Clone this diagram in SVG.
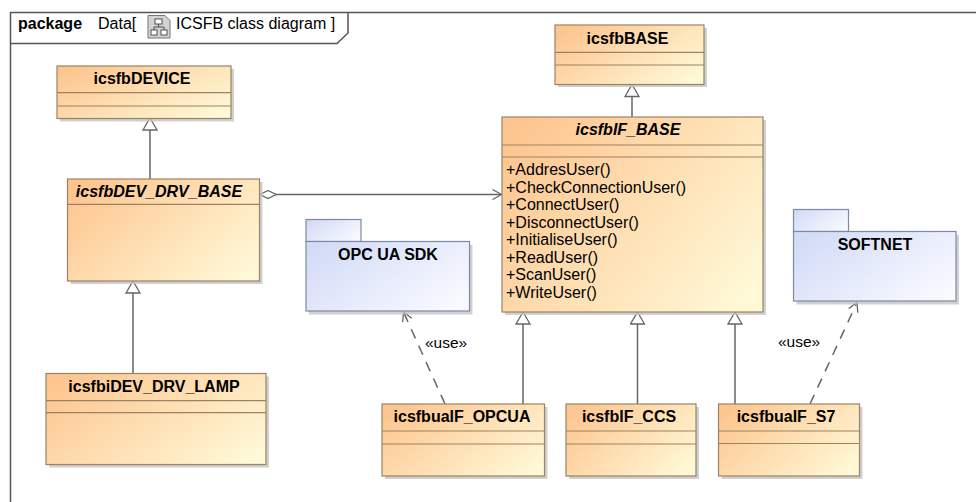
<svg xmlns="http://www.w3.org/2000/svg" width="976" height="502" viewBox="0 0 976 502">
<defs>
<linearGradient id="gClass" x1="0" y1="0.2" x2="1" y2="0.8">
<stop offset="0" stop-color="#FDC690"/>
<stop offset="1" stop-color="#FFF8D6"/>
</linearGradient>
<linearGradient id="gPkg" x1="0" y1="0.2" x2="1" y2="0.8">
<stop offset="0" stop-color="#D3DCF7"/>
<stop offset="1" stop-color="#F9FAFF"/>
</linearGradient>
<marker id="gen" markerUnits="userSpaceOnUse" markerWidth="14" markerHeight="16" viewBox="-1 -1 14 16" refX="12" refY="7" orient="auto">
<path d="M0,0 L12,7 L0,14 Z" fill="#fff" stroke="#666" stroke-width="1.3"/>
</marker>
<marker id="open" markerUnits="userSpaceOnUse" markerWidth="12" markerHeight="12" viewBox="-1 -1 12 12" refX="9" refY="5" orient="auto">
<path d="M0,0 L9,5 L0,10" fill="none" stroke="#666" stroke-width="1.3"/>
</marker>
<marker id="dia" markerUnits="userSpaceOnUse" markerWidth="18" markerHeight="10" viewBox="-1 -1 18 10" refX="0" refY="4" orient="auto">
<path d="M0,4 L8,0 L16,4 L8,8 Z" fill="#fff" stroke="#666" stroke-width="1.3"/>
</marker>
</defs>
<style>
.box{fill:url(#gClass);stroke:#9C8263;stroke-width:1.2}
.pkg{fill:url(#gPkg);stroke:#7E89A6;stroke-width:1.2}
.sh{fill:#C4C4C4;opacity:0.8}
.div{stroke:#9C8263;stroke-width:1.2}
.nm{font-family:"Liberation Sans",Arial,sans-serif;font-size:16px;font-weight:bold;fill:#000;text-anchor:middle}
.it{font-style:italic}
.op{font-family:"Liberation Sans",Arial,sans-serif;font-size:16px;fill:#000}
.lbl{font-family:"Liberation Sans",Arial,sans-serif;font-size:15.5px;fill:#000}
.ln{stroke:#666;stroke-width:1.5;fill:none}
.dash{stroke:#666;stroke-width:1.5;fill:none;stroke-dasharray:10,8}
.frame{stroke:#555;stroke-width:1.5;fill:none}
.hd{font-family:"Liberation Sans",Arial,sans-serif;font-size:16px;fill:#000}
</style>
<rect width="976" height="502" fill="#fff"/>

<g id="frame">
<path class="frame" d="M10.5,502 L10.5,12.5 L976,12.5"/>
<path class="frame" d="M10.5,43.5 L337,43.5 L348,33 L348,12.5"/>
<text class="hd" x="18" y="29" font-weight="bold">package</text>
<text class="hd" x="98" y="29">Data[</text>
<g id="icon">
<path d="M148,15.5 L165,15.5 L170,20.5 L170,38 L148,38 Z" fill="#D2D2D2" stroke="#777" stroke-width="1"/>
<rect x="155" y="19" width="7" height="5" fill="#fff" stroke="#444" stroke-width="0.9"/>
<rect x="151" y="30" width="6" height="5" fill="#fff" stroke="#444" stroke-width="0.9"/>
<rect x="161" y="30" width="6" height="5" fill="#fff" stroke="#444" stroke-width="0.9"/>
<path d="M158.5,24 L158.5,27 M154,30 L154,27 L164,27 L164,30" fill="none" stroke="#444" stroke-width="0.9"/>
</g>
<text class="hd" x="176" y="29">ICSFB class diagram ]</text>
</g>

<g id="connectors">
<line class="ln" x1="150" y1="179" x2="150" y2="118" marker-end="url(#gen)"/>
<line class="ln" x1="133" y1="373" x2="133" y2="281" marker-end="url(#gen)"/>
<line class="ln" x1="632" y1="117" x2="632" y2="84.5" marker-end="url(#gen)"/>
<line class="ln" x1="260" y1="194.5" x2="501.5" y2="194.5" marker-start="url(#dia)" marker-end="url(#open)"/>
<line class="ln" x1="523" y1="404" x2="523" y2="312" marker-end="url(#gen)"/>
<line class="ln" x1="637.5" y1="404" x2="637.5" y2="312" marker-end="url(#gen)"/>
<line class="ln" x1="735" y1="404" x2="735" y2="312" marker-end="url(#gen)"/>
<line class="dash" x1="445" y1="404" x2="403.5" y2="312" marker-end="url(#open)"/>
<line class="dash" x1="810" y1="404" x2="857" y2="302.5" marker-end="url(#open)"/>
<text class="lbl" x="425" y="348">«use»</text>
<text class="lbl" x="778" y="347">«use»</text>
</g>

<g id="icsfbDEVICE">
<rect class="sh" x="60" y="69" width="174" height="52.5"/>
<rect class="box" x="57" y="66" width="174" height="52.5"/>
<line class="div" x1="57" y1="92.7" x2="231" y2="92.7"/>
<line class="div" x1="57" y1="106" x2="231" y2="106"/>
<text class="nm" x="142" y="83.5">icsfbDEVICE</text>
</g>

<g id="icsfbDEV_DRV_BASE">
<rect class="sh" x="70.5" y="182" width="192" height="102"/>
<rect class="box" x="67.5" y="179" width="192" height="102"/>
<line class="div" x1="67.5" y1="204.3" x2="259.5" y2="204.3"/>
<text class="nm it" x="159" y="197">icsfbDEV_DRV_BASE</text>
</g>

<g id="icsfbiDEV_DRV_LAMP">
<rect class="sh" x="49" y="376.5" width="220" height="91"/>
<rect class="box" x="46" y="373.5" width="220" height="91"/>
<line class="div" x1="46" y1="400.7" x2="266" y2="400.7"/>
<line class="div" x1="46" y1="412.7" x2="266" y2="412.7"/>
<text class="nm" x="154" y="392" font-size="16.5">icsfbiDEV_DRV_LAMP</text>
</g>

<g id="icsfbBASE">
<rect class="sh" x="558" y="28" width="149" height="59"/>
<rect class="box" x="555" y="25" width="149" height="59.5"/>
<line class="div" x1="555" y1="52.3" x2="704" y2="52.3"/>
<line class="div" x1="555" y1="65" x2="704" y2="65"/>
<text class="nm" x="627.5" y="43.5">icsfbBASE</text>
</g>

<g id="icsfbIF_BASE">
<rect class="sh" x="505" y="120" width="261" height="195"/>
<rect class="box" x="502" y="117" width="261" height="195"/>
<line class="div" x1="502" y1="145" x2="763" y2="145"/>
<line class="div" x1="502" y1="157" x2="763" y2="157"/>
<text class="nm it" x="628" y="135">icsfbIF_BASE</text>
<text class="op" x="506" y="175">+AddresUser()</text>
<text class="op" x="506" y="192.5">+CheckConnectionUser()</text>
<text class="op" x="506" y="210">+ConnectUser()</text>
<text class="op" x="506" y="227.5">+DisconnectUser()</text>
<text class="op" x="506" y="245">+InitialiseUser()</text>
<text class="op" x="506" y="262.5">+ReadUser()</text>
<text class="op" x="506" y="280">+ScanUser()</text>
<text class="op" x="506" y="297.5">+WriteUser()</text>
</g>

<g id="OPC_UA_SDK">
<rect class="sh" x="309" y="245" width="163.5" height="69.5"/>
<rect class="pkg" x="306" y="219.5" width="55" height="22"/>
<rect class="pkg" x="306" y="241.5" width="163.5" height="69.5"/>
<text class="nm" x="388" y="260">OPC UA SDK</text>
</g>

<g id="SOFTNET">
<rect class="sh" x="796.5" y="235" width="162.5" height="69.5"/>
<rect class="pkg" x="793.5" y="209.5" width="55" height="22"/>
<rect class="pkg" x="793.5" y="231.5" width="162.5" height="69.5"/>
<text class="nm" x="875" y="249.5">SOFTNET</text>
</g>

<g id="icsfbuaIF_OPCUA">
<rect class="sh" x="385" y="407" width="162.5" height="72"/>
<rect class="box" x="382" y="404" width="162.5" height="72"/>
<line class="div" x1="382" y1="431" x2="544.5" y2="431"/>
<line class="div" x1="382" y1="444" x2="544.5" y2="444"/>
<text class="nm" x="462" y="422">icsfbuaIF_OPCUA</text>
</g>

<g id="icsfbIF_CCS">
<rect class="sh" x="569" y="407" width="130" height="72"/>
<rect class="box" x="566" y="404" width="130" height="72"/>
<line class="div" x1="566" y1="431" x2="696" y2="431"/>
<line class="div" x1="566" y1="444" x2="696" y2="444"/>
<text class="nm" x="629" y="422">icsfbIF_CCS</text>
</g>

<g id="icsfbuaIF_S7">
<rect class="sh" x="721.5" y="407" width="141" height="72"/>
<rect class="box" x="718.5" y="404" width="141" height="72"/>
<line class="div" x1="718.5" y1="431" x2="859.5" y2="431"/>
<line class="div" x1="718.5" y1="443.5" x2="859.5" y2="443.5"/>
<text class="nm" x="786" y="422">icsfbuaIF_S7</text>
</g>
</svg>
